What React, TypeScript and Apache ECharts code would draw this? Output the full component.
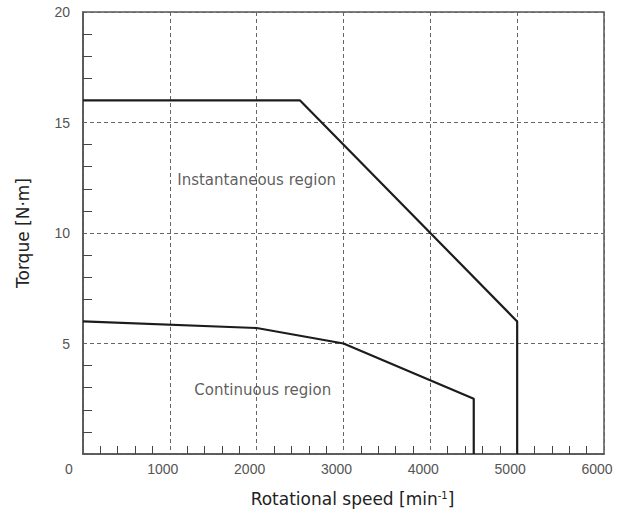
import React, { useEffect, useRef } from "react";
import * as echarts from "echarts";

const instSpeed = [0, 2500, 5000, 5000];
const instTorque = [16, 16, 6, 0];
const contSpeed = [0, 2000, 3000, 4500, 4500];
const contTorque = [6, 5.7, 5, 2.5, 0];
const regionLabels = ["Instantaneous region", "Continuous region"];
const regionSpeed = [2000, 2070];
const regionTorque = [12.4, 2.9];

const X_MAX = 6000;
const Y_MAX = 20;

export default function App() {
  const ref = useRef<HTMLDivElement>(null);
  useEffect(() => {
    if (!ref.current) return;
    const chart = echarts.init(ref.current, null, { renderer: "svg" });
    const tickFont = "Liberation Sans, Arial, sans-serif";
    const nameFont = "DejaVu Sans, sans-serif";
    const lineColor = "#1c1c1c";
    const axisColor = "#555";
    const gridLine = { color: "#666", width: 1, type: [4, 3] as any };
    chart.setOption({
      animation: false,
      grid: {
        left: 83,
        right: 18,
        top: 12,
        bottom: 61,
        show: true,
        borderColor: axisColor,
        borderWidth: 1.5,
        backgroundColor: "transparent",
      },
      xAxis: {
        type: "value",
        min: 0,
        max: X_MAX,
        interval: 1000,
        name: "Rotational speed [min{sup|-1}]",
        nameLocation: "middle",
        nameGap: 36,
        nameTextStyle: {
          fontFamily: nameFont,
          fontSize: 17,
          color: "#222",
          padding: [0, 0, 0, 18],
          rich: {
            sup: {
              fontFamily: nameFont,
              fontSize: 10,
              color: "#222",
              verticalAlign: "top",
              padding: [0, 0, 8, 0],
            },
          },
        },
        axisLine: { show: true, lineStyle: { color: axisColor, width: 1.5 } },
        axisTick: { show: false, inside: true },
        minorTick: {
          show: true,
          splitNumber: 5,
          length: 8,
          lineStyle: { color: "#444", width: 1 },
        },
        axisLabel: {
          fontFamily: tickFont,
          fontSize: 14,
          color: "#555",
          margin: 8,
          padding: [0, 14, 0, 0],
          formatter: (v: number) => (v === 0 ? "{z|0}" : String(v)),
          rich: {
            z: {
              fontFamily: tickFont,
              fontSize: 14,
              color: "#555",
              padding: [0, 14, 0, 0],
            },
          },
        },
        splitLine: { show: true, lineStyle: gridLine },
      },
      yAxis: {
        type: "value",
        min: 0,
        max: Y_MAX,
        interval: 5,
        name: "Torque [N·m]",
        nameLocation: "middle",
        nameGap: 52,
        nameRotate: 90,
        nameTextStyle: { fontFamily: nameFont, fontSize: 17, color: "#222" },
        axisLine: { show: true, lineStyle: { color: axisColor, width: 1.5 } },
        axisTick: { show: false, inside: true },
        minorTick: {
          show: true,
          splitNumber: 5,
          length: 9,
          lineStyle: { color: "#444", width: 1 },
        },
        axisLabel: {
          fontFamily: tickFont,
          fontSize: 14,
          color: "#555",
          margin: 13,
          padding: [7, 0, 0, 0],
          showMinLabel: false,
        },
        splitLine: { show: true, lineStyle: gridLine },
      },
      series: [
        {
          type: "line",
          data: instSpeed.map((x, i) => [x, instTorque[i]]),
          symbol: "none",
          lineStyle: { color: lineColor, width: 2.2 },
          z: 5,
        },
        {
          type: "line",
          data: contSpeed.map((x, i) => [x, contTorque[i]]),
          symbol: "none",
          lineStyle: { color: lineColor, width: 2.2 },
          z: 5,
        },
        {
          type: "scatter",
          silent: true,
          symbolSize: 0,
          data: regionLabels.map((t, i) => [regionSpeed[i], regionTorque[i], t]),
          label: {
            show: true,
            position: "inside",
            formatter: (p: any) => p.data[2],
            fontFamily: nameFont,
            fontSize: 15,
            color: "#333",
          },
        },
      ],
    });
    return () => chart.dispose();
  }, []);
  return (
    <div
      ref={ref}
      style={{ position: "absolute", left: 0, top: 0, width: 622, height: 515 }}
    />
  );
}
